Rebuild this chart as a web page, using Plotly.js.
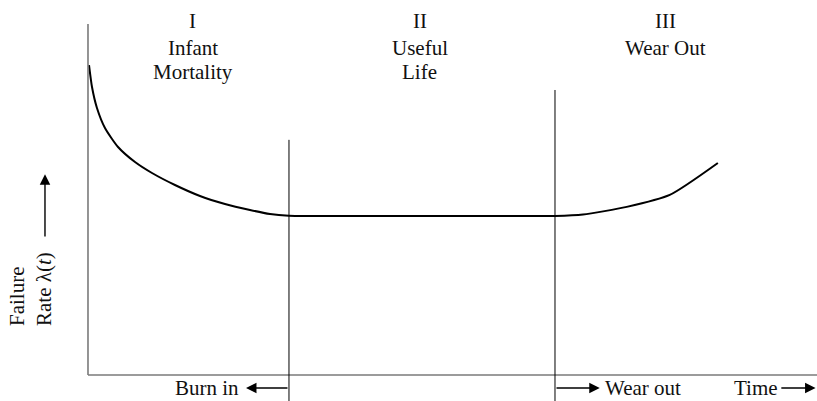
<!DOCTYPE html>
<html>
<head>
<meta charset="utf-8">
<script src="https://cdn.plot.ly/plotly-3.0.1.min.js"></script>
<style>html,body{margin:0;padding:0;background:#fff;}#chart{width:817px;height:401px;}</style>
</head>
<body>
<div id="chart"></div>
<script>
// Bathtub curve: time vs failure rate (arbitrary units)
const time = [0.014, 0.055, 0.123, 0.233, 0.412, 0.645, 0.878, 1.193, 1.536, 1.879, 2.222, 2.497, 2.757, 2.9, 3.6, 4.6, 5.6, 6.406, 6.79, 7.39, 7.98, 8.64];
const failureRate = [8.83, 8.205, 7.607, 7.037, 6.496, 6.068, 5.755, 5.413, 5.10, 4.872, 4.701, 4.587, 4.535, 4.53, 4.53, 4.53, 4.53, 4.53, 4.57, 4.79, 5.13, 6.04];
const phaseBoundaries = [2.757, 6.406];
const boundaryTops = [6.70, 8.12];
const phaseNumerals = ["I", "II", "III"];
const phaseNames = [["Infant", "Mortality"], ["Useful", "Life"], ["Wear Out"]];
const phaseCenters = [1.44, 4.55, 7.92];
const axisMax = 10;

const FONT = {family: "Liberation Serif, Times New Roman, serif", size: 21, color: "#111"};
const xRange = [-1.207, 10.0];
const yRange = [-0.741, 10.684];

const traces = [{
  x: time, y: failureRate, mode: "lines", type: "scatter",
  line: {color: "#000", width: 2, shape: "spline", smoothing: 0.6},
  hoverinfo: "skip"
}];

const shapes = [
  // axes
  {type: "line", xref: "x", yref: "y", x0: 0, x1: 0, y0: 0, y1: axisMax, line: {color: "#7a7a7a", width: 1.6}},
  {type: "line", xref: "x", yref: "y", x0: 0, x1: xRange[1], y0: 0, y1: 0, line: {color: "#7a7a7a", width: 1.6}}
];
phaseBoundaries.forEach((b, i) => {
  shapes.push({type: "line", xref: "x", yref: "y", x0: b, x1: b, y0: boundaryTops[i], y1: yRange[0], line: {color: "#000", width: 1}});
});

const annotations = [];
const lineYs = [10.08, 9.33, 8.64];
phaseNumerals.forEach((n, i) => {
  annotations.push({x: phaseCenters[i], y: lineYs[0], text: n, showarrow: false, font: FONT, xanchor: "center", yanchor: "middle"});
  phaseNames[i].forEach((t, j) => {
    annotations.push({x: phaseCenters[i], y: lineYs[j + 1], text: t, showarrow: false, font: FONT, xanchor: "center", yanchor: "middle"});
  });
});

const arrowY = -0.37, textY = -0.36;
function arrow(x0, x1, y0, y1) {
  return {x: x1, y: y1, ax: x0, ay: y0, axref: "x", ayref: "y", xref: "x", yref: "y", text: "",
    showarrow: true, arrowhead: 2, arrowsize: 1.5, arrowwidth: 1.4, arrowcolor: "#000", standoff: 0, startstandoff: 0};
}
annotations.push(arrow(phaseBoundaries[0], 2.167, arrowY, arrowY));
annotations.push(arrow(phaseBoundaries[1], 7.02, arrowY, arrowY));
annotations.push(arrow(9.49, 9.98, arrowY, arrowY));
annotations.push(arrow(-0.59, -0.59, 3.90, 5.72));
annotations.push({x: 1.63, y: textY, text: "Burn in", showarrow: false, font: FONT, xanchor: "center", yanchor: "middle"});
annotations.push({x: 7.06, y: textY, text: "Wear out", showarrow: false, font: FONT, xanchor: "left", yanchor: "middle"});
annotations.push({x: 9.17, y: textY, text: "Time", showarrow: false, font: FONT, xanchor: "center", yanchor: "middle"});
annotations.push({x: -0.79, y: 1.35, text: "Failure<br>Rate λ(<i>t</i>)", showarrow: false, font: FONT,
  textangle: -90, align: "left", xanchor: "center", yanchor: "bottom"});

const layout = {
  width: 817, height: 401,
  margin: {l: 0, r: 0, t: 0, b: 0, pad: 0},
  paper_bgcolor: "#fff", plot_bgcolor: "#fff",
  showlegend: false,
  xaxis: {range: xRange, visible: false, fixedrange: true},
  yaxis: {range: yRange, visible: false, fixedrange: true},
  shapes: shapes, annotations: annotations
};
Plotly.newPlot("chart", traces, layout, {staticPlot: true, displayModeBar: false});
</script>
</body>
</html>
